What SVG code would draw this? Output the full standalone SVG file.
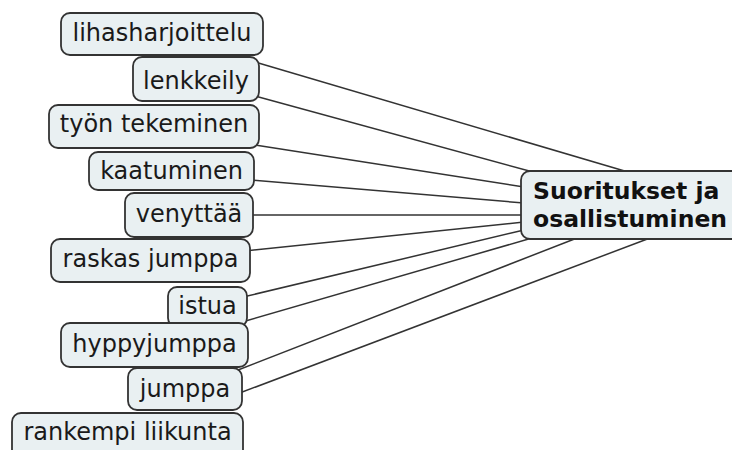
<svg xmlns="http://www.w3.org/2000/svg" width="732" height="450" viewBox="0 0 732 450">
<style>
.box{fill:#e9f0f2;stroke:#333;stroke-width:1.8}
.t{font-family:"DejaVu Sans",Verdana,sans-serif;font-size:24px;fill:#1a1a1a;text-anchor:middle}
.c{font-family:"DejaVu Sans",Verdana,sans-serif;font-size:23.5px;font-weight:bold;fill:#111}
.ln{stroke:#333;stroke-width:1.5;fill:none}
</style>
<rect width="732" height="450" fill="#fff"/>
<g id="connectors">
<line class="ln" x1="255" y1="62" x2="628" y2="172"/>
<line class="ln" x1="255" y1="96" x2="533" y2="172"/>
<line class="ln" x1="255" y1="145" x2="524" y2="187"/>
<line class="ln" x1="250" y1="180" x2="524" y2="203"/>
<line class="ln" x1="248" y1="215" x2="524" y2="215"/>
<line class="ln" x1="245" y1="251" x2="524" y2="222"/>
<line class="ln" x1="243" y1="297" x2="524" y2="230"/>
<line class="ln" x1="242" y1="322" x2="532" y2="238"/>
<line class="ln" x1="238" y1="370" x2="577" y2="238"/>
<line class="ln" x1="237" y1="394" x2="650" y2="238"/>
</g>
<g id="n-lihasharjoittelu"><rect class="box" x="61" y="13" width="202" height="42" rx="9"/><text class="t" x="162" y="41">lihasharjoittelu</text></g>
<g id="n-lenkkeily"><rect class="box" x="133" y="57" width="126" height="44" rx="9"/><text class="t" x="196" y="89">lenkkeily</text></g>
<g id="n-tyon-tekeminen"><rect class="box" x="49" y="105" width="210" height="43" rx="9"/><text class="t" x="154" y="132">työn tekeminen</text></g>
<g id="n-kaatuminen"><rect class="box" x="89" y="152" width="165" height="38" rx="9"/><text class="t" x="171.5" y="179">kaatuminen</text></g>
<g id="n-venyttaa"><rect class="box" x="125" y="193" width="128" height="44" rx="9"/><text class="t" x="189" y="222">venyttää</text></g>
<g id="n-raskas-jumppa"><rect class="box" x="51" y="239" width="199" height="43" rx="9"/><text class="t" x="150.5" y="267">raskas jumppa</text></g>
<g id="n-istua"><rect class="box" x="168" y="287" width="79" height="40" rx="9"/><text class="t" x="207.5" y="314">istua</text></g>
<g id="n-hyppyjumppa"><rect class="box" x="61" y="323" width="187" height="44" rx="9"/><text class="t" x="154.5" y="352">hyppyjumppa</text></g>
<g id="n-jumppa"><rect class="box" x="128" y="368" width="114" height="42" rx="9"/><text class="t" x="185" y="397">jumppa</text></g>
<g id="n-rankempi-liikunta"><rect class="box" x="12" y="413" width="231" height="46" rx="9"/><text class="t" x="127.5" y="440">rankempi liikunta</text></g>
<g id="n-suoritukset"><rect class="box" x="521" y="171" width="230" height="68" rx="9"/><text class="c" x="533" y="199">Suoritukset ja</text><text class="c" x="533" y="227">osallistuminen</text></g>
</svg>
